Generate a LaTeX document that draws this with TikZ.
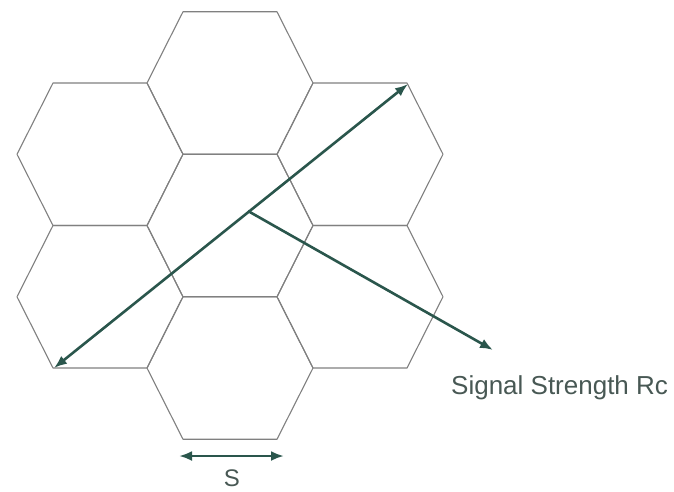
\documentclass[tikz,border=0pt]{standalone}
\usepackage{fontspec}
\setmainfont{Liberation Sans}
\usetikzlibrary{arrows.meta}
\definecolor{hexgray}{RGB}{128,128,128}
\definecolor{arrowteal}{RGB}{42,86,76}
\definecolor{txtgray}{RGB}{72,88,84}
\tikzset{
  hexline/.style={draw=hexgray, line width=1.1pt, line join=round},
  hexcell/.pic={\path[hexline] (-47,-71.25)--(47,-71.25)--(83,0)--(47,71.25)--(-47,71.25)--(-83,0)--cycle;},
  ray/.style={draw=arrowteal, line width=2.6pt},
  tip/.style={-{Latex[length=13pt,width=10pt]}},
  lbl/.style={text=txtgray, font=\fontsize{26}{30}\selectfont, inner sep=0pt}
}
\begin{document}
\begin{tikzpicture}[x=1pt,y=-1pt]
\useasboundingbox (0,0) rectangle (674,491);
% cells
\pic at (230,83) {hexcell};
\pic at (230,225.5) {hexcell};
\pic at (230,368) {hexcell};
\pic at (100,154.25) {hexcell};
\pic at (100,296.75) {hexcell};
\pic at (360,154.25) {hexcell};
\pic at (360,296.75) {hexcell};
% connector end points
\coordinate (dl) at (54,368);
\coordinate (ur) at (408,84);
\coordinate (src) at (248,211);
\coordinate (sig) at (493,350);
\coordinate (sl) at (179,456);
\coordinate (sr) at (284,456);
% arrows
\draw[ray, {Latex[length=13pt,width=10pt]}-{Latex[length=13pt,width=10pt]}] (dl) -- (ur);
\draw[ray, tip] (src) -- (sig);
\draw[ray, {Latex[length=13pt,width=10pt]}-{Latex[length=13pt,width=10pt]}] (sl) -- (sr);
% labels
\node[lbl, anchor=west] (siglbl) at (451,388) {Signal Strength Rc};
\node[lbl, font=\fontsize{24}{28}\selectfont] (slbl) at (232,478) {S};
\end{tikzpicture}
\end{document}
